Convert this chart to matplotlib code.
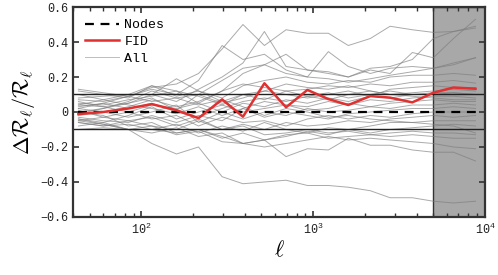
import numpy as np
import matplotlib
matplotlib.use("Agg")
import matplotlib.pyplot as plt

plt.rcParams["font.family"] = ["Liberation Mono", "DejaVu Sans Mono"]
plt.rcParams["mathtext.fontset"] = "cm"

# ell bins
ell = [43, 60, 84, 115, 160, 215, 295, 390, 520, 695, 925, 1225, 1600,
       2150, 2800, 3775, 5000, 6550, 8800]

fid = [-0.012, 0.0, 0.02, 0.045, 0.01, -0.035, 0.072, -0.027, 0.164, 0.027,
       0.126, 0.074, 0.04, 0.091, 0.082, 0.055, 0.11, 0.14, 0.133]

nodes = [0.0] * len(ell)

# individual realisations ("All")
g01 = [0.07, 0.06, 0.09, 0.14, 0.16, 0.22, 0.36, 0.50, 0.38, 0.47, 0.45, 0.45, 0.38, 0.42, 0.49, 0.47, 0.455, 0.46, 0.48]
g02 = [0.04, 0.03, 0.05, 0.10, 0.06, 0.13, 0.20, 0.28, 0.46, 0.26, 0.24, 0.23, 0.20, 0.25, 0.26, 0.30, 0.42, 0.46, 0.49]
g03 = [0.12, 0.10, 0.08, 0.15, 0.12, 0.05, 0.12, 0.22, 0.27, 0.33, 0.24, 0.22, 0.20, 0.24, 0.22, 0.34, 0.31, 0.42, 0.53]
g04 = [0.00, 0.02, 0.06, 0.12, 0.08, 0.10, 0.18, 0.25, 0.27, 0.22, 0.20, 0.19, 0.17, 0.19, 0.21, 0.23, 0.25, 0.28, 0.31]
g05 = [0.08, 0.09, 0.10, 0.10, 0.19, 0.12, 0.08, 0.15, 0.18, 0.20, 0.17, 0.16, 0.18, 0.17, 0.20, 0.21, 0.21, 0.22, 0.21]
g06 = [-0.02, 0.00, 0.03, 0.07, 0.03, 0.06, 0.12, 0.16, 0.14, 0.12, 0.13, 0.15, 0.14, 0.16, 0.15, 0.17, 0.17, 0.18, 0.165]
g07 = [0.05, 0.04, 0.07, 0.09, 0.12, 0.09, 0.04, 0.10, 0.12, 0.10, 0.08, 0.10, 0.12, 0.09, 0.13, 0.14, 0.15, 0.14, 0.14]
g08 = [0.03, 0.05, 0.02, 0.05, 0.00, -0.03, 0.02, 0.06, 0.08, 0.06, 0.09, 0.07, 0.10, 0.12, 0.10, 0.11, 0.12, 0.13, 0.12]
g09 = [-0.05, -0.03, 0.00, 0.04, 0.02, 0.05, 0.00, 0.05, 0.03, 0.07, 0.05, 0.08, 0.06, 0.09, 0.08, 0.10, 0.10, 0.11, 0.10]
g10 = [0.10, 0.07, 0.04, 0.02, -0.01, 0.03, -0.02, 0.02, 0.06, 0.04, 0.03, 0.06, 0.04, 0.07, 0.06, 0.08, 0.09, 0.09, 0.08]
g11 = [-0.08, -0.06, -0.02, 0.03, -0.04, 0.00, 0.04, 0.00, 0.02, 0.04, 0.01, 0.02, 0.05, 0.03, 0.05, 0.06, 0.07, 0.06, 0.06]
g12 = [0.02, 0.00, -0.03, 0.00, 0.04, -0.06, 0.00, -0.04, 0.00, -0.02, 0.02, 0.00, 0.01, 0.03, 0.02, 0.04, 0.04, 0.05, 0.04]
g13 = [-0.03, -0.05, -0.06, -0.02, -0.06, -0.02, -0.05, 0.02, -0.03, 0.00, -0.02, -0.04, -0.01, 0.00, 0.01, 0.02, 0.02, 0.03, 0.02]
g14 = [0.06, 0.03, 0.00, -0.04, -0.02, -0.08, -0.03, -0.06, -0.05, -0.08, -0.04, -0.02, -0.04, -0.02, -0.03, -0.01, 0.00, 0.00, 0.00]
g15 = [-0.06, -0.08, -0.05, -0.08, -0.10, -0.05, -0.10, -0.07, -0.10, -0.06, -0.08, -0.07, -0.05, -0.06, -0.04, -0.03, -0.02, -0.03, -0.02]
g16 = [-0.10, -0.09, -0.10, -0.10, -0.07, -0.12, -0.08, -0.11, -0.06, -0.10, -0.12, -0.09, -0.10, -0.08, -0.06, -0.06, -0.05, -0.05, -0.05]
g17 = [0.00, -0.02, -0.08, -0.06, -0.12, -0.10, -0.15, -0.12, -0.16, -0.14, -0.11, -0.13, -0.10, -0.12, -0.10, -0.09, -0.08, -0.07, -0.08]
g18 = [-0.04, -0.07, -0.10, -0.12, -0.09, -0.14, -0.12, -0.18, -0.16, -0.13, -0.12, -0.15, -0.14, -0.13, -0.12, -0.11, -0.12, -0.12, -0.13]
g19 = [-0.06, -0.08, -0.07, -0.10, -0.12, -0.10, -0.14, -0.18, -0.16, -0.255, -0.21, -0.217, -0.15, -0.19, -0.19, -0.217, -0.23, -0.23, -0.28]
g20 = [0.02, 0.05, 0.09, 0.13, 0.10, 0.18, 0.38, 0.30, 0.33, 0.24, 0.20, 0.345, 0.26, 0.22, 0.25, 0.26, 0.25, 0.27, 0.31]
g21 = [-0.04, -0.06, -0.10, -0.18, -0.24, -0.20, -0.37, -0.41, -0.40, -0.39, -0.42, -0.42, -0.43, -0.45, -0.49, -0.49, -0.51, -0.52, -0.51]
g22 = [-0.05, -0.07, -0.10, -0.08, -0.13, -0.11, -0.17, -0.18, -0.20, -0.18, -0.16, -0.14, -0.16, -0.15, -0.16, -0.17, -0.18, -0.20, -0.21]
g23 = [0.01, -0.03, -0.05, -0.03, -0.08, -0.04, -0.10, -0.08, -0.13, -0.12, -0.10, -0.12, -0.11, -0.13, -0.14, -0.13, -0.14, -0.15, -0.15]
g24 = [0.13, 0.11, 0.09, 0.06, 0.08, 0.04, 0.07, 0.03, -0.02, 0.02, 0.00, -0.03, -0.02, -0.04, -0.05, -0.06, -0.07, -0.08, -0.12]
g25 = [0.04, 0.07, 0.10, 0.15, 0.09, 0.12, 0.06, 0.10, 0.07, 0.12, 0.09, 0.11, 0.08, 0.10, 0.12, 0.10, 0.11, 0.11, 0.10]
g26 = [-0.01, 0.02, 0.05, 0.08, 0.01, 0.10, 0.05, 0.08, 0.12, 0.16, 0.14, 0.13, 0.15, 0.12, 0.10, 0.09, 0.08, 0.07, 0.07]

all_runs = [g01, g02, g03, g04, g05, g06, g07, g08, g09, g10, g11, g12, g13,
            g14, g15, g16, g17, g18, g19, g20, g21, g22, g23, g24, g25, g26]

ell_cut = 5000
ell_min, ell_max = 40, 1e4

fig = plt.figure(figsize=(4.98, 2.75), dpi=100)
ax = fig.add_axes([0.1466, 0.211, 0.8274, 0.7635])

ax.axvspan(ell_cut, ell_max, facecolor="#a8a8a8", edgecolor="#333333",
           lw=1.0, zorder=0)

for i, run in enumerate(all_runs):
    ax.plot(ell, run, color="#7d7d7d", alpha=0.65, lw=0.7, zorder=1,
            label="All" if i == 0 else None)

ax.axhline(0.1, color="#222222", lw=1.0, zorder=2)
ax.axhline(-0.1, color="#222222", lw=1.0, zorder=2)

ax.plot(ell, nodes, color="black", lw=1.6, ls=(0, (4, 3)), zorder=3,
        label="Nodes")
ax.plot(ell, fid, color="#e03030", lw=1.8, zorder=4, label="FID")

ax.set_xscale("log")
ax.set_xlim(ell_min, ell_max)
ax.set_ylim(-0.6, 0.6)
ax.set_yticks([-0.6, -0.4, -0.2, 0, 0.2, 0.4, 0.6])
ax.set_yticklabels(["\u22120.6", "\u22120.4", "\u22120.2", "0", "0.2", "0.4", "0.6"])

ax.tick_params(which="both", direction="in", top=True, right=True,
               labelsize=8.5, colors="#333333", labelcolor="#222222")
ax.tick_params(which="major", length=4.5, width=1.2)
ax.tick_params(which="minor", length=3, width=1.0)
for sp in ax.spines.values():
    sp.set_linewidth(1.6)
    sp.set_color("#333333")

ax.set_xlabel(r"$\ell$", fontsize=16, labelpad=2)
ax.set_ylabel(r"$\Delta\mathcal{R}_\ell/\mathcal{R}_\ell$", fontsize=16,
              labelpad=2)

h, l = ax.get_legend_handles_labels()
order = [l.index("Nodes"), l.index("FID"), l.index("All")]
leg = ax.legend([h[k] for k in order], [l[k] for k in order],
                loc="upper left", frameon=False, fontsize=9.5,
                handlelength=2.6, handletextpad=0.4, labelspacing=0.35,
                borderaxespad=0.5)
leg.get_lines()[2].set_alpha(0.5)

fig.savefig("out.png", dpi=100)
